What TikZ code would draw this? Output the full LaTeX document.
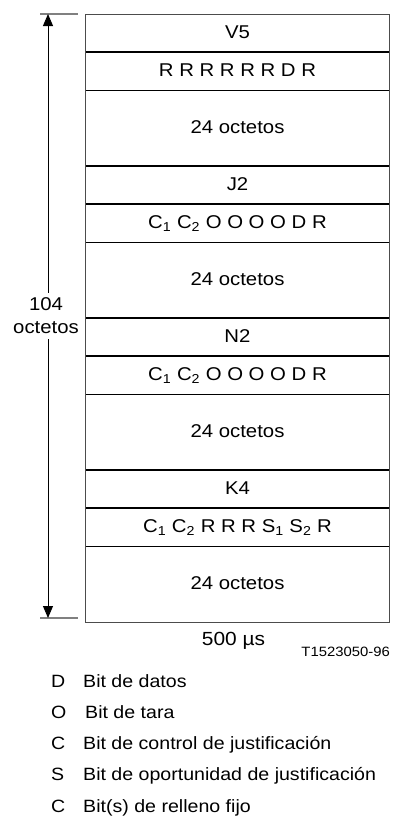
\documentclass[tikz,border=0pt]{standalone}
\usepackage{fontspec}
\setmainfont{Liberation Sans}[FakeStretch=1.1]
\usetikzlibrary{positioning,arrows.meta}
\tikzset{
  frsmall/.style={minimum width=303pt, minimum height=37.7pt, inner sep=0pt, text height=13pt, text depth=3pt, font=\fontsize{18.5}{20}\selectfont},
  frbig/.style={frsmall, minimum height=75.4pt},
  frsep/.style={line width=1.4pt, draw=black},
  frborder/.style={line width=1pt, draw=black!70},
  frtick/.style={line width=1.3pt, draw=black!50},
  frarrow/.style={line width=0.9pt, draw=black, -{Triangle[width=10pt,length=12pt]}},
  frlabel/.style={align=center, inner sep=5pt, font=\fontsize{18.5}{23}\selectfont},
  frlegend/.style={anchor=base west, inner sep=0pt, font=\fontsize{17.8}{20}\selectfont},
}

\begin{document}
\begin{tikzpicture}[x=1pt,y=-1pt]
\useasboundingbox (0,0) rectangle (392,819);
% frame rows
\node[frsmall, anchor=north] (v5) at (237.5,14) {V5};
\node[frsmall, below=0pt of v5] (rbits) {R R R R R R D R};
\node[frbig, below=0pt of rbits] (oct1) {24 octetos};
\node[frsmall, below=0pt of oct1] (j2) {J2};
\node[frsmall, below=0pt of j2] (cbits1) {C\textsubscript{1} C\textsubscript{2} O O O O D R};
\node[frbig, below=0pt of cbits1] (oct2) {24 octetos};
\node[frsmall, below=0pt of oct2] (n2) {N2};
\node[frsmall, below=0pt of n2] (cbits2) {C\textsubscript{1} C\textsubscript{2} O O O O D R};
\node[frbig, below=0pt of cbits2] (oct3) {24 octetos};
\node[frsmall, below=0pt of oct3] (k4) {K4};
\node[frsmall, below=0pt of k4] (cbits3) {C\textsubscript{1} C\textsubscript{2} R R R S\textsubscript{1} S\textsubscript{2} R};
\node[frbig, below=0pt of cbits3] (oct4) {24 octetos};
\foreach \r in {v5,rbits,oct1,j2,cbits1,oct2,n2,cbits2,oct3,k4,cbits3}
  \draw[frsep] (\r.south west) -- (\r.south east);
\draw[frborder] (v5.north west) rectangle (oct4.south east);
% length arrow
\coordinate (tickl) at (40,14);
\coordinate (tickr) at (78,14);
\coordinate (bickl) at (40,618);
\coordinate (bickr) at (78,618);
\draw[frtick] (tickl) -- (tickr);
\draw[frtick] (bickl) -- (bickr);
\coordinate (atop) at (48,14);
\coordinate (abot) at (48,618);
\node[frlabel] (len) at (46,316) {104\\octetos};
\draw[frarrow] (atop |- len.north) -- (atop);
\draw[frarrow] (abot |- len.south) -- (abot);
% time and reference
\node[anchor=base, inner sep=0pt, font=\fontsize{19}{20}\selectfont] (time) at (233.5,645) {500 µs};
\node[anchor=base east, inner sep=0pt, font=\fontsize{13.5}{15}\selectfont] (ref) at (390,656) {T1523050-96};
% legend
\node[frlegend] (kd) at (51,687) {D};
\node[frlegend] (td) at (83,687) {Bit de datos};
\node[frlegend] (ko) at (51,718.3) {O};
\node[frlegend] (to) at (85,718.3) {Bit de tara};
\node[frlegend] (kc) at (51,749.6) {C};
\node[frlegend] (tc) at (83,749.6) {Bit de control de justificación};
\node[frlegend] (ks) at (51,780.9) {S};
\node[frlegend] (ts) at (83,780.9) {Bit de oportunidad de justificación};
\node[frlegend] (kr) at (51,812.2) {C};
\node[frlegend] (tr) at (83,812.2) {Bit(s) de relleno fijo};
\end{tikzpicture}
\end{document}
